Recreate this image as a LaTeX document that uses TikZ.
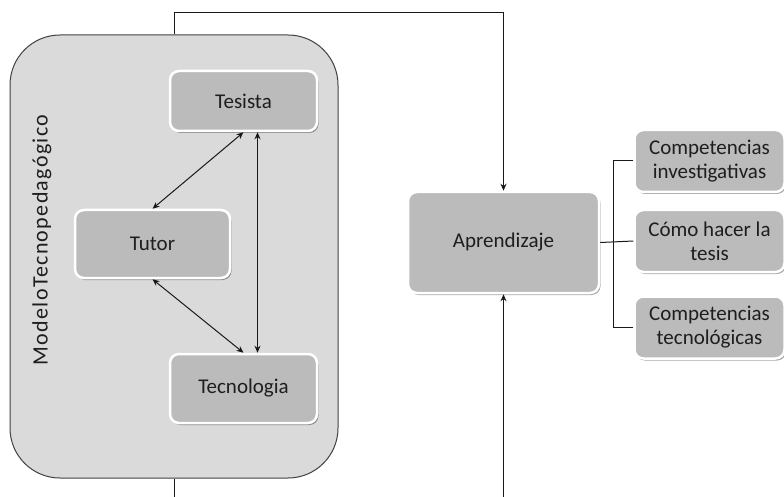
\documentclass[tikz,border=0pt]{standalone}
\usepackage{fontspec}
\setmainfont{Carlito}
\newfontfamily\spacedfont[LetterSpace=6]{Carlito}
\usetikzlibrary{arrows.meta,shadows}
\definecolor{boxgray}{HTML}{BBBBBB}
\definecolor{panelgray}{HTML}{DADADA}
\definecolor{txt}{HTML}{1E1E1E}
\begin{document}
\begin{tikzpicture}[x=1pt,y=-1pt,
  every node/.style={font=\fontsize{21}{24}\selectfont, text=txt},
  gbox/.style={rectangle, rounded corners=9pt, fill=boxgray, draw=white, line width=2.5pt,
    drop shadow={shadow xshift=1.5pt, shadow yshift=-2pt, fill=black, opacity=.35},
    inner sep=2pt, align=center},
  conn/.style={draw=black!90, line width=1pt},
  tip/.style={-{Stealth[length=7pt,width=6pt]}},
  bitip/.style={{Stealth[length=7pt,width=6pt]}-{Stealth[length=7pt,width=6pt]}}]
\useasboundingbox (0,0) rectangle (784,497);
% panel
\node[draw=black!75, line width=1pt, fill=panelgray, rounded corners=50pt,
      minimum width=328pt, minimum height=443pt, inner sep=0pt] (model) at (174,256.5) {};
\node[rotate=90, font=\spacedfont\fontsize{22}{25}\selectfont] (lab) at (42,240) {ModeloTecnopedagógico};
% inner boxes
\node[gbox, minimum width=147pt, minimum height=60pt] (tes) at (243.5,101) {Tesista};
\node[gbox, minimum width=155pt, minimum height=68pt] (tut) at (152.5,244) {Tutor};
\node[gbox, minimum width=147pt, minimum height=69pt] (tec) at (243.5,388.5) {Tecnologia};
% right boxes
\node[gbox, minimum width=191pt, minimum height=101pt] (apr) at (503.5,242.5) {Aprendizaje};
\node[gbox, minimum width=150pt, minimum height=62pt] (c1) at (709.5,161) {Competencias\\investigativas};
\node[gbox, minimum width=150pt, minimum height=62pt] (c2) at (709.5,241) {Cómo hacer la\\tesis};
\node[gbox, minimum width=150pt, minimum height=62pt] (c3) at (709.5,327.5) {Competencias\\tecnológicas};
% inner arrows
\draw[conn, bitip] (tes.south) -- (tut.north);
\draw[conn, bitip] (tut.south) -- (tec.north);
\draw[conn, bitip] ([xshift=14pt]tes.south) -- ([xshift=14pt]tec.north);
% outer connectors
\draw[conn, tip] (model.north) -- ++(0,-22) -| (apr.north);
\coordinate (bot1) at (174,497);
\coordinate (bot2) at (503.5,497);
\draw[conn] (model.south) -- (bot1);
\draw[conn, tip] (bot2) -- (apr.south);
% right tree
\coordinate (bus) at (613,242);
\draw[conn] (apr.east) -- (c2.west);
\draw[conn] (c1.west) -- (c1.west -| bus) -- (c3.west -| bus) -- (c3.west);
\end{tikzpicture}
\end{document}
